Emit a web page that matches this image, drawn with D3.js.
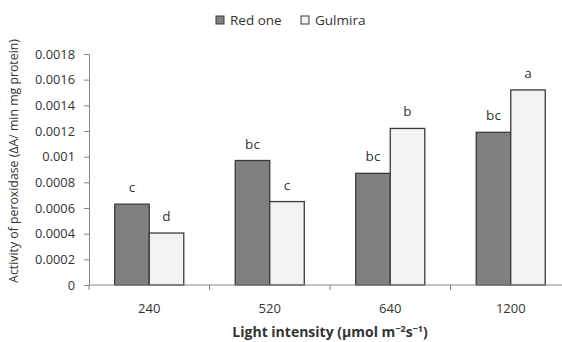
<!DOCTYPE html>
<html>
<head>
<meta charset="utf-8">
<script src="https://cdn.jsdelivr.net/npm/d3@7"></script>
<style>
  body { margin: 0; background: #fff; }
  svg text { font-family: 'Open Sans', 'Noto Sans', sans-serif; fill: #333; }
</style>
</head>
<body>
<script>
'use strict';

// chart data
const intensities = ['240', '520', '640', '1200'];
const seriesNames = ['Red one', 'Gulmira'];
const redOne = [0.00063, 0.00097, 0.00087, 0.00119];
const gulmira = [0.000405, 0.00065, 0.00122, 0.00152];
const redLetters = ['c', 'bc', 'bc', 'bc'];
const gulLetters = ['d', 'c', 'b', 'a'];
const yTicks = [0, 0.0002, 0.0004, 0.0006, 0.0008, 0.001, 0.0012, 0.0014, 0.0016, 0.0018];

(function() {
    const width = 562, height = 342;
    const left = 89, right = 571, top = 54, bottom = 285;

    let svg = d3.select('body').append('svg')
        .attr('width', width)
        .attr('height', height);

    let color = d3.scaleOrdinal()
        .domain(seriesNames)
        .range(['#808080', '#f2f2f2']);

    let x = d3.scaleBand()
        .domain(intensities)
        .range([left, right])
        .paddingInner(0.427)
        .paddingOuter(0.2135);

    let xSub = d3.scaleBand()
        .domain(seriesNames)
        .range([0, x.bandwidth()]);

    let y = d3.scaleLinear()
        .domain([0, 0.0018])
        .range([bottom, top]);

    // y axis
    let yAxis = d3.axisLeft(y)
        .tickValues(yTicks)
        .tickSize(5)
        .tickFormat((d) => d === 0 ? '0' : String(+d.toFixed(4)));
    let gy = svg.append('g')
        .attr('transform', 'translate(' + left + ',0)')
        .call(yAxis);
    gy.select('.domain').attr('stroke', '#868686');
    gy.selectAll('.tick line').attr('stroke', '#868686');
    gy.selectAll('.tick text')
        .attr('x', -14)
        .style('font-size', '12.8px')
        .style('fill', '#333');

    // bars
    let rows = intensities.map((c, i) => ({
        cat: c,
        vals: [
            {name: seriesNames[0], v: redOne[i], letter: redLetters[i]},
            {name: seriesNames[1], v: gulmira[i], letter: gulLetters[i]}
        ]
    }));

    let groups = svg.selectAll('.grp')
        .data(rows)
        .enter()
        .append('g')
        .attr('class', 'grp')
        .attr('transform', (d) => 'translate(' + x(d.cat) + ',0)');

    groups.selectAll('rect')
        .data((d) => d.vals)
        .enter()
        .append('rect')
            .attr('x', (d) => xSub(d.name))
            .attr('y', (d) => y(d.v))
            .attr('width', xSub.bandwidth())
            .attr('height', (d) => bottom - y(d.v))
            .attr('fill', (d) => color(d.name))
            .attr('stroke', '#3a3a3a')
            .attr('stroke-width', 1.3);

    groups.selectAll('.letter')
        .data((d) => d.vals)
        .enter()
        .append('text')
            .attr('class', 'letter')
            .attr('x', (d) => xSub(d.name) + xSub.bandwidth() / 2)
            .attr('y', (d) => y(d.v) - 12)
            .style('text-anchor', 'middle')
            .style('font-size', '13.5px')
            .text((d) => d.letter);

    // x axis
    let xAxisScale = d3.scaleLinear().domain([0, intensities.length]).range([left, right]);
    let gx = svg.append('g')
        .attr('transform', 'translate(0,' + bottom + ')');
    gx.append('line')
        .attr('x1', left).attr('x2', right)
        .attr('stroke', '#868686');
    gx.selectAll('.xt')
        .data(d3.range(intensities.length + 1))
        .enter()
        .append('line')
            .attr('x1', (d) => xAxisScale(d))
            .attr('x2', (d) => xAxisScale(d))
            .attr('y1', 0).attr('y2', 5)
            .attr('stroke', '#868686');
    gx.selectAll('.xl')
        .data(intensities)
        .enter()
        .append('text')
            .attr('x', (d) => x(d) + x.bandwidth() / 2)
            .attr('y', 28)
            .style('text-anchor', 'middle')
            .style('font-size', '13px')
            .text((d) => d);

    // axis titles
    let xt = svg.append('text')
        .attr('x', 330)
        .attr('y', 337)
        .style('text-anchor', 'middle')
        .style('font-size', '14px')
        .style('font-weight', 'bold');
    xt.append('tspan').text('Light intensity (µmol m');
    xt.append('tspan').attr('dy', -5).style('font-size', '9px').text('−2');
    xt.append('tspan').attr('dy', 5).text('s');
    xt.append('tspan').attr('dy', -5).style('font-size', '9px').text('−1');
    xt.append('tspan').attr('dy', 5).text(')');

    svg.append('text')
        .attr('transform', 'translate(18,161)rotate(-90)')
        .style('text-anchor', 'middle')
        .style('font-size', '12.3px')
        .text('Activity of peroxidase (ΔA/ min mg protein)');

    // legend
    let legendX = [216, 301];
    let legend = svg.selectAll('.legend')
        .data(seriesNames)
        .enter()
        .append('g')
        .attr('class', 'legend')
        .attr('transform', (d, i) => 'translate(' + legendX[i] + ',16)');
    legend.append('rect')
        .attr('width', 8)
        .attr('height', 8)
        .attr('fill', color)
        .attr('stroke', '#3a3a3a');
    legend.append('text')
        .attr('x', 14)
        .attr('y', 4)
        .attr('dy', '.35em')
        .style('font-size', '13.5px')
        .text((d) => d);
})();
</script>
</body>
</html>
